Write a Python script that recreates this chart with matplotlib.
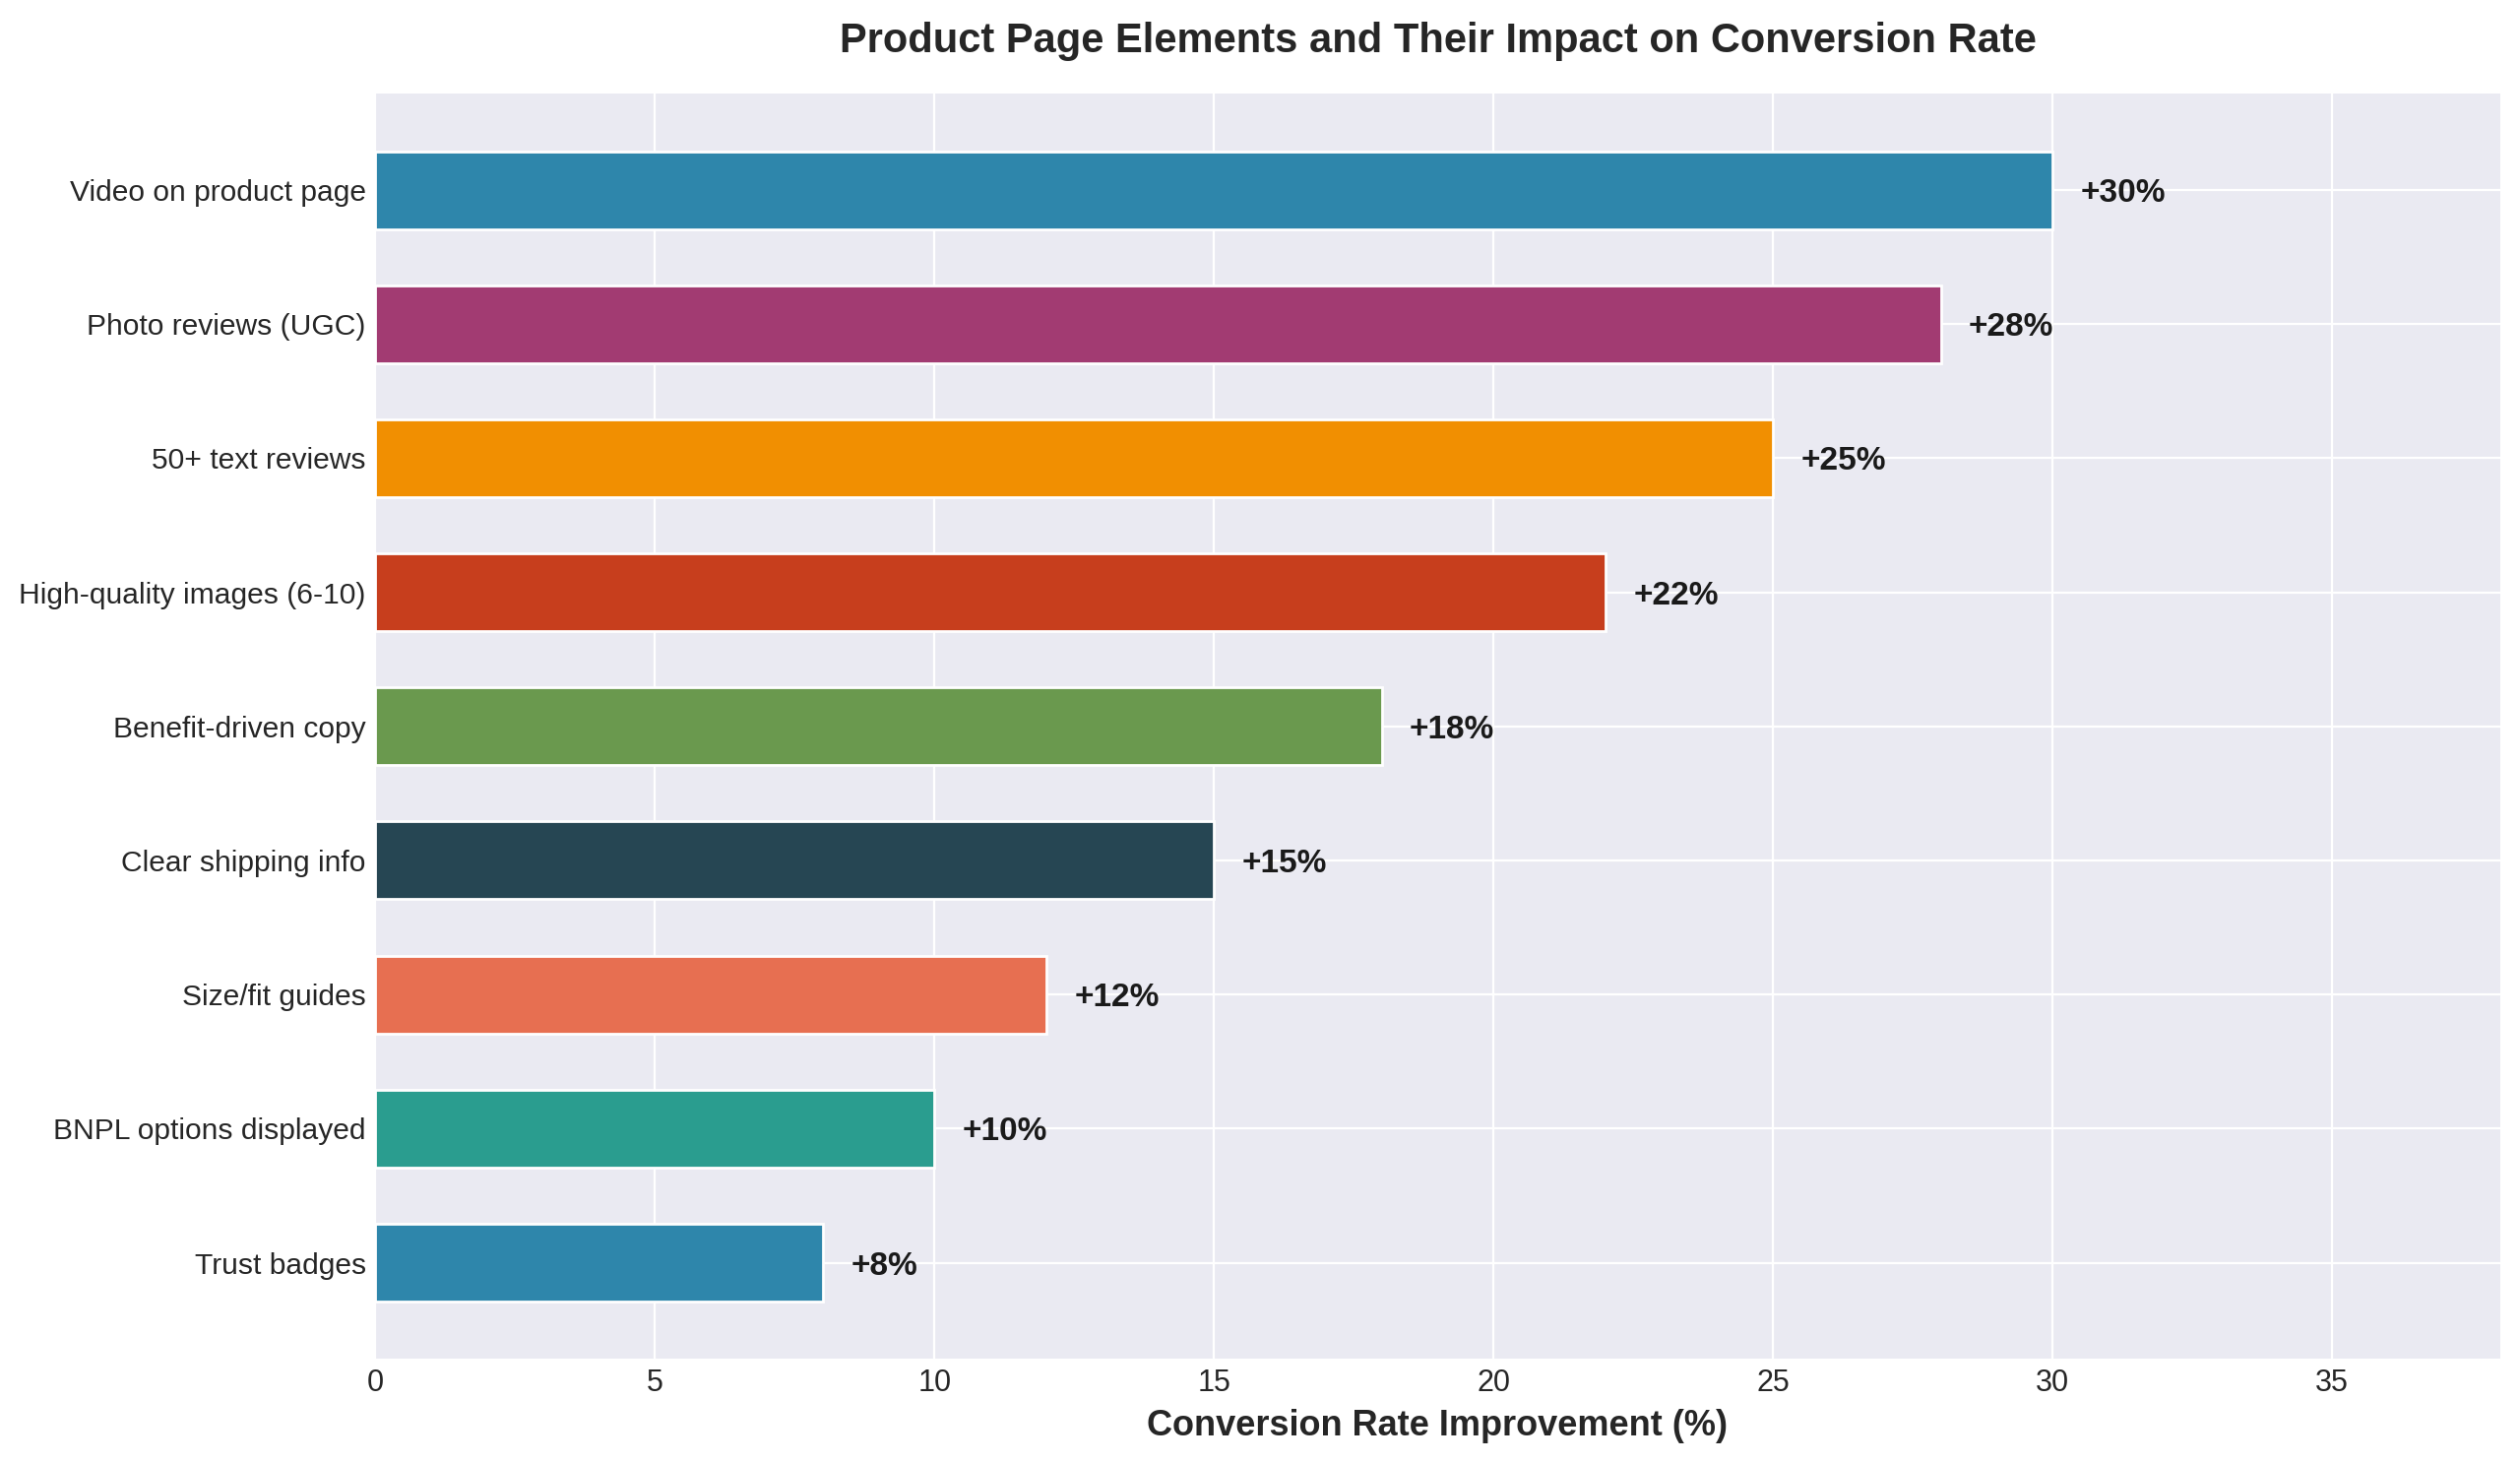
import matplotlib
matplotlib.use("Agg")
import matplotlib.pyplot as plt

plt.style.use('seaborn-v0_8-darkgrid')
plt.rcParams['font.family'] = ['Liberation Sans', 'DejaVu Sans']

# data (bottom to top)
elements = ['Trust badges', 'BNPL options displayed', 'Size/fit guides',
            'Clear shipping info', 'Benefit-driven copy', 'High-quality images (6-10)',
            '50+ text reviews', 'Photo reviews (UGC)', 'Video on product page']
improvement = [8, 10, 12, 15, 18, 22, 25, 28, 30]
colors = ['#2E86AB', '#2A9D8F', '#E76F51', '#264653', '#6A994E',
          '#C73E1D', '#F18F01', '#A23B72', '#2E86AB']

fig, ax = plt.subplots(figsize=(12.8, 7.43), dpi=200)
fig.subplots_adjust(left=0.149, right=0.992, top=0.936, bottom=0.071)

bars = ax.barh(elements, improvement, color=colors, height=0.58,
               edgecolor='white', linewidth=1)

for bar, val in zip(bars, improvement):
    ax.text(val + 0.5, bar.get_y() + bar.get_height() / 2, f'+{val}%',
            va='center_baseline', ha='left', fontsize=12, fontweight='bold',
            color='#1a1a1a')

ax.set_xlim(0, 38)
ax.set_xlabel('Conversion Rate Improvement (%)', fontsize=13, fontweight='bold')
ax.set_title('Product Page Elements and Their Impact on Conversion Rate',
             fontsize=15, fontweight='bold', pad=15)
ax.tick_params(axis='x', labelsize=11)
ax.tick_params(axis='y', labelsize=10.8)

plt.savefig('out.png', dpi=200)
